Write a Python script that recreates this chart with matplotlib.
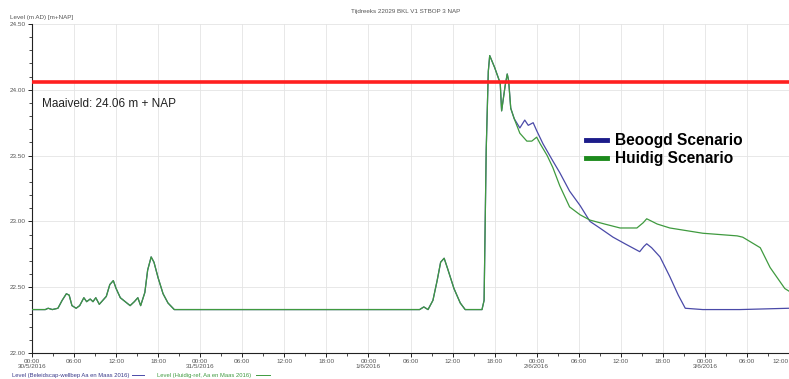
import datetime as dt
import matplotlib
matplotlib.use("Agg")
import matplotlib.pyplot as plt
import matplotlib.dates as mdates
from matplotlib.lines import Line2D
from matplotlib.ticker import MultipleLocator, FuncFormatter

plt.rcParams['font.family'] = ['Liberation Sans', 'DejaVu Sans']

start = dt.datetime(2016, 5, 30, 0, 0)
maaiveld = 24.06

# Shared part of both series (hours since start, level in m + NAP)
common_hours = [0, 1.9, 2.3, 2.9, 3.7, 4.3, 4.9, 5.3, 5.7, 6.3, 6.8, 7.4, 7.8, 8.3, 8.7,
                9.1, 9.6, 10.1, 10.6, 11.1, 11.6, 12.0, 12.6, 13.3, 14.0, 14.6, 15.1,
                15.5, 16.1, 16.5, 17.0, 17.4, 18.0, 18.7, 19.4, 20.3, 21.1, 55.3, 55.9,
                56.5, 57.2, 57.8, 58.3, 58.8, 59.3, 60.2, 61.1, 61.8, 64.2, 64.5, 64.8,
                65.1, 65.3, 66.0, 66.8, 67.0, 67.5, 67.8, 68.0, 68.3, 68.8]
common_level = [22.33, 22.33, 22.34, 22.33, 22.34, 22.40, 22.45, 22.44, 22.36, 22.34,
                22.36, 22.42, 22.39, 22.41, 22.39, 22.42, 22.37, 22.40, 22.43, 22.52,
                22.55, 22.49, 22.42, 22.39, 22.36, 22.39, 22.42, 22.36, 22.46, 22.63,
                22.73, 22.69, 22.57, 22.45, 22.38, 22.33, 22.33, 22.33, 22.35, 22.33,
                22.40, 22.55, 22.69, 22.72, 22.64, 22.49, 22.38, 22.33, 22.33, 22.40,
                23.54, 24.14, 24.26, 24.17, 24.05, 23.84, 24.03, 24.12, 24.07, 23.86,
                23.78]

# Beoogd scenario after the shared part
beoogd_hours = [69.6, 70.3, 70.8, 71.5, 72.0, 72.9, 74.3, 75.3, 76.7, 78.2, 79.6, 81.0,
                82.9, 84.6, 86.7, 87.3, 87.7, 88.4, 89.6, 91.0, 92.2, 93.2, 95.7, 101.0,
                108.0]
beoogd_level = [23.71, 23.77, 23.73, 23.75, 23.69, 23.59, 23.46, 23.37, 23.23, 23.12,
                23.00, 22.95, 22.88, 22.83, 22.77, 22.81, 22.83, 22.80, 22.73, 22.58,
                22.44, 22.34, 22.33, 22.33, 22.34]

# Huidig scenario after the shared part
huidig_hours = [69.6, 70.6, 71.3, 72.0, 72.5, 73.5, 74.3, 75.3, 76.7, 78.2, 79.6, 81.7,
                83.9, 86.3, 87.2, 87.7, 89.2, 91.0, 95.7, 100.6, 101.4, 103.9, 105.3,
                107.4, 108.0]
huidig_level = [23.67, 23.61, 23.61, 23.64, 23.59, 23.50, 23.41, 23.27, 23.11, 23.05,
                23.01, 22.98, 22.95, 22.95, 22.99, 23.02, 22.98, 22.95, 22.91, 22.89,
                22.88, 22.80, 22.65, 22.49, 22.47]

y_ticks = [22.00, 22.50, 23.00, 23.50, 24.00, 24.50]

def to_time(hours):
    return [start + dt.timedelta(hours=h) for h in hours]

blue_t = to_time(common_hours + beoogd_hours)
blue_v = common_level + beoogd_level
green_t = to_time(common_hours + huidig_hours)
green_v = common_level + huidig_level

fig = plt.figure(figsize=(7.89, 3.79), dpi=100)
ax = fig.add_axes([32 / 789, 1 - 353 / 379, 1 - 32 / 789, (353 - 24) / 379])

ax.plot(blue_t, blue_v, color='#4a4aa8', lw=0.9, zorder=3)
ax.plot(green_t, green_v, color='#3f9a3f', lw=0.9, zorder=4)
ax.axhline(maaiveld, color='#ff1f1f', lw=2.6, zorder=5)
ax.text(start + dt.timedelta(hours=1.4), maaiveld - 0.17, f"Maaiveld: {maaiveld:.2f} m + NAP",
        fontsize=8.5, color='#222222', va='center', ha='left')

ax.set_xlim(start, start + dt.timedelta(hours=108))
ax.set_ylim(22.0, 24.5)

ax.xaxis.set_major_locator(mdates.HourLocator(byhour=[0, 6, 12, 18]))
ax.xaxis.set_minor_locator(mdates.HourLocator(byhour=[3, 9, 15, 21]))

def fmt_time(x, pos):
    d = mdates.num2date(x)
    s = f"{d:%H:%M}"
    if d.hour == 0:
        s += f"\n{d.day}/{d.month}/{d.year}"
    return s

ax.xaxis.set_major_formatter(FuncFormatter(fmt_time))
ax.set_yticks(y_ticks)
ax.yaxis.set_minor_locator(MultipleLocator(0.1))
ax.yaxis.set_major_formatter(FuncFormatter(lambda v, p: f"{v:.2f}"))

ax.tick_params(axis='both', which='major', labelsize=4.6, labelcolor='#555555',
               length=3, width=0.6, pad=1.2)
ax.tick_params(axis='both', which='minor', length=2, width=0.5)
ax.grid(True, which='major', color='#e4e4e4', lw=0.6)
for side in ('top', 'right'):
    ax.spines[side].set_visible(False)
for side in ('left', 'bottom'):
    ax.spines[side].set_linewidth(0.8)
    ax.spines[side].set_color('#222222')

fig.canvas.draw()
for lbl in ax.get_xticklabels():
    lbl.set_linespacing(1.0)
ax.get_xticklabels()[-1].set_horizontalalignment('right')

# In-plot scenario legend
handles = [Line2D([], [], color='#1c1c8a', lw=3.5), Line2D([], [], color='#1c8a1c', lw=3.5)]
leg = ax.legend(handles, ['Beoogd Scenario', 'Huidig Scenario'],
                loc='upper left', bbox_to_anchor=((572 - 32) / 757, (353 - 119) / 329),
                frameon=False, handlelength=1.35, handletextpad=0.5, labelspacing=0.2,
                prop={'weight': 'bold', 'size': 11.2})

fig.text(406 / 789, 1 - 12 / 379, "Tijdreeks 22029 BKL V1 STBOP 3 NAP", fontsize=4.5,
         color='#555555', ha='center', va='center')
fig.text(10 / 789, 1 - 17 / 379, "Level (m AD) [m+NAP]", fontsize=4.5,
         color='#555555', ha='left', va='center')

# Series key below the axis
key_y = 1 - 375 / 379
fig.text(12 / 789, key_y, "Level (Beleidscap-wellbep Aa en Maas 2016)",
         fontsize=4.2, color='#3a3a8a', ha='left', va='center')
fig.add_artist(Line2D([132 / 789, 144 / 789], [key_y] * 2, color='#4a4aa8', lw=0.7))
fig.text(157 / 789, key_y, "Level (Huidig-ref, Aa en Maas 2016)",
         fontsize=4.2, color='#3f9a3f', ha='left', va='center')
fig.add_artist(Line2D([256 / 789, 270 / 789], [key_y] * 2, color='#3f9a3f', lw=0.7))

fig.savefig("out.png", dpi=100)
